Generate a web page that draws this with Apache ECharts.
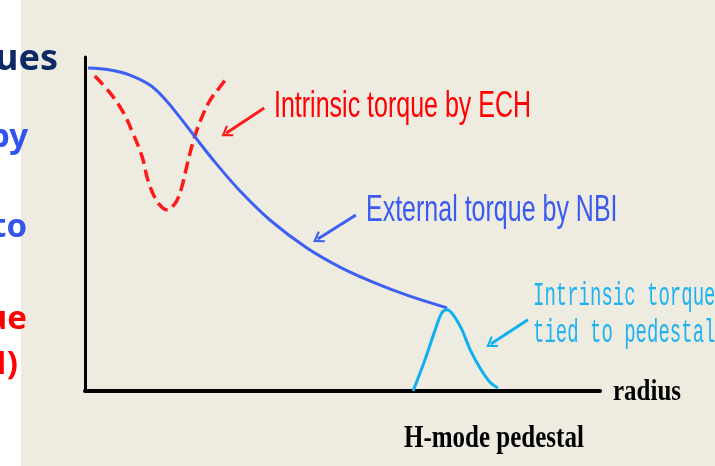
<!DOCTYPE html>
<html>
<head>
<meta charset="utf-8">
<script src="https://cdn.jsdelivr.net/npm/echarts@6/dist/echarts.min.js"></script>
<style>
  html, body { margin: 0; padding: 0; background: #fff; }
  #chart { width: 715px; height: 466px; }
</style>
</head>
<body>
<div id="chart"></div>
<script>
// radius (0..1) and torque (0..1)
var nbiR = [0.006, 0.049, 0.087, 0.126, 0.155, 0.184, 0.214, 0.252, 0.301, 0.359, 0.431, 0.495, 0.559, 0.625, 0.703]
var nbiT = [0.967, 0.961, 0.946, 0.916, 0.874, 0.820, 0.760, 0.686, 0.599, 0.512, 0.428, 0.371, 0.326, 0.287, 0.249]

var echR = [0.019, 0.049, 0.074, 0.093, 0.111, 0.122, 0.136, 0.151, 0.161, 0.171, 0.179, 0.188, 0.196, 0.204, 0.214, 0.227, 0.243, 0.262, 0.278]
var echT = [0.943, 0.892, 0.835, 0.772, 0.701, 0.632, 0.578, 0.548, 0.542, 0.554, 0.572, 0.611, 0.662, 0.713, 0.766, 0.820, 0.871, 0.910, 0.943]

var pedR = [0.637, 0.660, 0.680, 0.693, 0.703, 0.715, 0.732, 0.748, 0.767, 0.786, 0.802]
var pedT = [0.000, 0.093, 0.183, 0.234, 0.243, 0.228, 0.183, 0.123, 0.069, 0.027, 0.009]

// arrows: [from, to] in the same units
var echArrow = [[0.348, 0.847], [0.274, 0.772]]
var nbiArrow = [[0.526, 0.527], [0.452, 0.455]]
var pedArrow = [[0.860, 0.213], [0.788, 0.141]]

var labelEch = 'Intrinsic torque by ECH'
var labelNbi = 'External torque by NBI'
var labelPed = ['Intrinsic torque', 'tied to pedestal']
var axisX = 'radius'
var axisNote = 'H-mode pedestal'
// fragments of the neighbouring text column, cut by the left edge
var sideText = [
  { text: 'ues', x: 58, y: 68, color: '#0d2a66', size: 36 },
  { text: 'by', x: 28, y: 145, color: '#3355ee', size: 33 },
  { text: 'to', x: 27, y: 235, color: '#3355ee', size: 33 },
  { text: 'ue', x: 27, y: 327, color: '#ff0000', size: 33 },
  { text: 'H)', x: 18, y: 372, color: '#ff0000', size: 33 }
]

function pairs(xs, ys) {
  return xs.map(function(x, i) { return [x, ys[i]] })
}

var chevron = 'path://M0,0L10,14L7.5,16L0,5.5L-7.5,16L-10,14Z'

function arrow(a, color) {
  return {
    silent: true,
    symbol: ['none', chevron],
    symbolSize: [13, 11],
    label: { show: false },
    lineStyle: { color: color, width: 3, type: 'solid' },
    data: [[{ coord: a[0] }, { coord: a[1] }]]
  }
}

function label(text, x, y, font, color, sy, align) {
  return {
    type: 'text',
    x: x,
    y: y,
    scaleY: sy,
    z: 10,
    style: {
      text: text,
      font: font,
      fill: color,
      align: align || 'left',
      textAlign: align || 'left',
      verticalAlign: 'middle',
      textVerticalAlign: 'middle'
    }
  }
}

var graphics = [{
  type: 'rect',
  z: 0,
  silent: true,
  shape: { x: 21, y: 0, width: 694, height: 466 },
  style: { fill: '#eeece1' }
}]
sideText.forEach(function(s) {
  graphics.push({
    type: 'text',
    x: s.x,
    y: s.y + Math.round(s.size * 0.27),
    z: 10,
    style: {
      text: s.text,
      font: 'bold ' + s.size + 'px "Noto Sans"',
      fill: s.color,
      align: 'right',
      textAlign: 'right',
      verticalAlign: 'bottom',
      textVerticalAlign: 'bottom'
    }
  })
})
graphics.push(label(labelEch, 274, 107, '25px "Liberation Sans"', '#ff0000', 1.48))
graphics.push(label(labelNbi, 366, 211, '25px "Liberation Sans"', '#3a5af0', 1.48))
graphics.push(label(labelPed[0], 533, 296, '19px "Liberation Mono"', '#1fb2f0', 1.7))
graphics.push(label(labelPed[1], 533, 333, '19px "Liberation Mono"', '#1fb2f0', 1.7))
graphics.push(label(axisX, 613, 392, 'bold 25px "Liberation Serif"', '#000', 1.2))
graphics.push(label(axisNote, 404, 439, 'bold 25px "Liberation Serif"', '#000', 1.25))

var chart = echarts.init(document.getElementById('chart'))
chart.setOption({
  animation: false,
  backgroundColor: '#ffffff',
  grid: {
    left: 85,
    right: 115,
    top: 57,
    bottom: 75
  },
  graphic: graphics,
  xAxis: {
    type: 'value',
    min: 0,
    max: 1,
    axisLine: { show: true, lineStyle: { color: '#000', width: 4 } },
    axisTick: { show: false },
    axisLabel: { show: false },
    splitLine: { show: false }
  },
  yAxis: {
    type: 'value',
    min: 0,
    max: 1,
    axisLine: { show: true, lineStyle: { color: '#000', width: 3 } },
    axisTick: { show: false },
    axisLabel: { show: false },
    splitLine: { show: false }
  },
  series: [{
    name: labelEch,
    type: 'line',
    smooth: 0.4,
    showSymbol: false,
    lineStyle: { color: '#ff1a1a', width: 3.5, type: [12, 6] },
    data: pairs(echR, echT),
    markLine: arrow(echArrow, '#ff1a1a')
  }, {
    name: labelNbi,
    type: 'line',
    smooth: 0.4,
    showSymbol: false,
    lineStyle: { color: '#3d60f2', width: 3 },
    data: pairs(nbiR, nbiT),
    markLine: arrow(nbiArrow, '#3d60f2')
  }, {
    name: labelPed.join(' '),
    type: 'line',
    smooth: 0.35,
    showSymbol: false,
    lineStyle: { color: '#10b0f0', width: 3 },
    data: pairs(pedR, pedT),
    markLine: arrow(pedArrow, '#10b0f0')
  }]
})
</script>
</body>
</html>
